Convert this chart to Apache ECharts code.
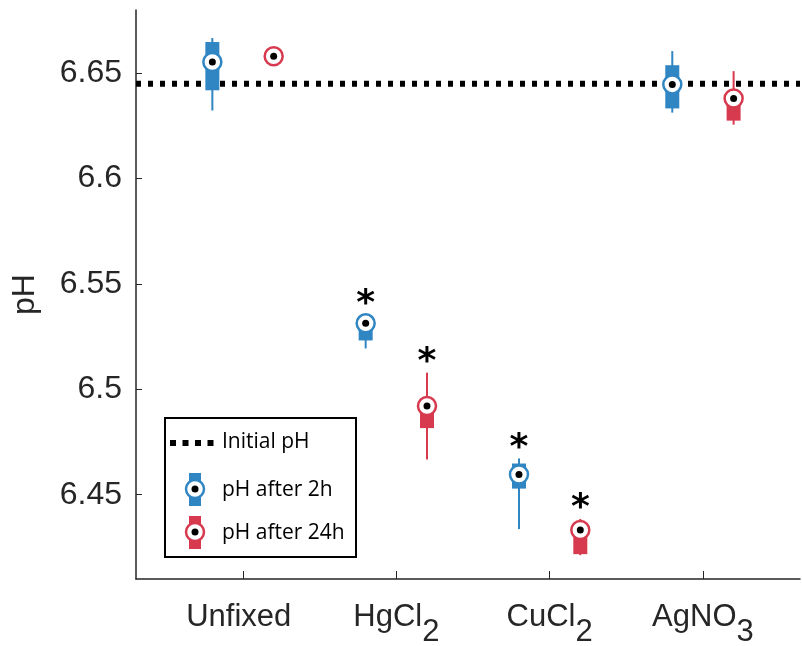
<!DOCTYPE html>
<html>
<head>
<meta charset="utf-8">
<script src="https://cdn.jsdelivr.net/npm/echarts@6/dist/echarts.min.js"></script>
<style>
  html, body { margin: 0; padding: 0; background: #fff; }
  #main { width: 802px; height: 646px; }
</style>
</head>
<body>
<div id="main"></div>
<script>
// groups on the x axis
const categories = ['Unfixed', 'HgCl2', 'CuCl2', 'AgNO3'];
const categoryLabels = ['Unfixed{sub| }', 'HgCl{sub|2}', 'CuCl{sub|2}', 'AgNO{sub|3}'];
const yTicks = [6.45, 6.5, 6.55, 6.6, 6.65];
const initialPH = 6.645;

// per group: [whisker low, box low, median, box high, whisker high]
const after2h = [
  [6.6323, 6.6419, 6.6553, 6.6648, 6.6667],
  [6.5194, 6.5232, 6.5313, 6.5330, 6.5340],
  [6.4337, 6.4529, 6.4596, 6.4648, 6.4672],
  [6.6313, 6.6333, 6.6447, 6.6538, 6.6605]
];
const after24h = [
  [6.6572, 6.6576, 6.6581, 6.6586, 6.6590],
  [6.4667, 6.4816, 6.4921, 6.4950, 6.5079],
  [6.4213, 6.4218, 6.4333, 6.4340, 6.4385],
  [6.6256, 6.6275, 6.6380, 6.6404, 6.6510]
];
// significance stars
const sig2h = [0, 1, 1, 0];
const sig24h = [0, 1, 1, 0];

const blue = '#3085c3';
const red = '#d73a4e';
const axisColor = '#262626';
const offset = 0.2;

function boxRenderer(color) {
  return function (params, api) {
    const x = api.value(0);
    const pLow = api.coord([x, api.value(1)]);
    const pBoxLow = api.coord([x, api.value(2)]);
    const pMed = api.coord([x, api.value(3)]);
    const pBoxHigh = api.coord([x, api.value(4)]);
    const pHigh = api.coord([x, api.value(5)]);
    const cx = pMed[0];
    const r = 9;
    const children = [
      { type: 'line', shape: { x1: cx, y1: pLow[1], x2: cx, y2: pHigh[1] },
        style: { stroke: color, lineWidth: 2 } },
      { type: 'rect', shape: { x: cx - 7, y: pBoxHigh[1], width: 14, height: pBoxLow[1] - pBoxHigh[1] },
        style: { fill: color } },
      { type: 'circle', shape: { cx: cx, cy: pMed[1], r: r },
        style: { fill: '#fff', stroke: color, lineWidth: 2.5 } },
      { type: 'circle', shape: { cx: cx, cy: pMed[1], r: 3.5 },
        style: { fill: '#000' } }
    ];
    if (api.value(6)) {
      const top = Math.min(pHigh[1], pMed[1] - r);
      children.push({ type: 'text',
        style: { text: '*', x: cx, y: top - 10, align: 'center', verticalAlign: 'middle',
          font: 'bold 36px "DejaVu Sans"', fill: '#000' } });
    }
    return { type: 'group', children: children };
  };
}

const data2h = after2h.map((r, i) => [i + 1 - offset].concat(r, [sig2h[i]]));
const data24h = after24h.map((r, i) => [i + 1 + offset].concat(r, [sig24h[i]]));

const xMin = 0.302, xMax = 4.633;

const chart = echarts.init(document.getElementById('main'));
chart.setOption({
  animation: false,
  backgroundColor: '#fff',
  grid: { left: 136, right: 2, top: 10, bottom: 67, containLabel: false, outerBoundsMode: 'none' },
  xAxis: {
    type: 'value',
    min: xMin,
    max: xMax,
    axisLine: { lineStyle: { color: axisColor, width: 1.5 } },
    axisTick: { inside: true, length: 8, customValues: [1, 2, 3, 4], lineStyle: { color: axisColor } },
    splitLine: { show: false },
    axisLabel: {
      customValues: [1, 2, 3, 4],
      formatter: v => categoryLabels[Math.round(v) - 1],
      fontFamily: 'Liberation Sans',
      fontSize: 31,
      color: axisColor,
      margin: 8,
      rich: {
        sub: { fontFamily: 'Liberation Sans', fontSize: 31, color: axisColor, padding: [30, 0, 0, 0] }
      }
    }
  },
  yAxis: {
    type: 'value',
    min: 6.41,
    max: 6.68,
    name: 'pH',
    nameLocation: 'middle',
    nameGap: 95,
    nameRotate: 90,
    nameTextStyle: { fontFamily: 'Liberation Sans', fontSize: 32, color: axisColor },
    axisLine: { show: true, lineStyle: { color: axisColor, width: 1.5 } },
    axisTick: { inside: true, length: 6, customValues: yTicks, lineStyle: { color: axisColor } },
    splitLine: { show: false },
    axisLabel: {
      customValues: yTicks,
      formatter: v => String(+v.toFixed(2)),
      fontFamily: 'Liberation Sans',
      fontSize: 32,
      color: axisColor,
      margin: 14
    }
  },
  series: [
    {
      name: 'Initial pH',
      type: 'line',
      data: [[xMin, initialPH], [xMax, initialPH]],
      symbol: 'none',
      lineStyle: { color: '#000', width: 6, type: [5, 7] },
      z: 1
    },
    {
      name: 'pH after 2h',
      type: 'custom',
      renderItem: boxRenderer(blue),
      data: data2h,
      clip: false,
      z: 2
    },
    {
      name: 'pH after 24h',
      type: 'custom',
      renderItem: boxRenderer(red),
      data: data24h,
      clip: false,
      z: 2
    }
  ],
  // legend box drawn by hand to get the two-colour icons
  graphic: [
    { type: 'rect', left: 164, top: 417, shape: { width: 191, height: 139 },
      style: { fill: '#fff', stroke: '#000', lineWidth: 2 }, z: 10 },
    { type: 'line', shape: { x1: 170, y1: 443, x2: 214, y2: 443 },
      style: { stroke: '#000', lineWidth: 6, lineDash: [6, 6.5] }, z: 11 },
    { type: 'text', left: 222, top: 432, z: 11,
      style: { text: 'Initial pH', font: '21px "Open Sans"', fill: '#000' } },
    { type: 'rect', shape: { x: 189, y: 473, width: 12, height: 33 }, style: { fill: blue }, z: 11 },
    { type: 'circle', shape: { cx: 195, cy: 489, r: 9 }, style: { fill: '#fff', stroke: blue, lineWidth: 2.5 }, z: 12 },
    { type: 'circle', shape: { cx: 195, cy: 489, r: 3.5 }, style: { fill: '#000' }, z: 13 },
    { type: 'text', left: 222, top: 480, z: 11,
      style: { text: 'pH after 2h', font: '21px "Open Sans"', fill: '#000' } },
    { type: 'rect', shape: { x: 189, y: 516, width: 12, height: 33 }, style: { fill: red }, z: 11 },
    { type: 'circle', shape: { cx: 195, cy: 532, r: 9 }, style: { fill: '#fff', stroke: red, lineWidth: 2.5 }, z: 12 },
    { type: 'circle', shape: { cx: 195, cy: 532, r: 3.5 }, style: { fill: '#000' }, z: 13 },
    { type: 'text', left: 222, top: 523, z: 11,
      style: { text: 'pH after 24h', font: '21px "Open Sans"', fill: '#000' } }
  ]
});
</script>
</body>
</html>
